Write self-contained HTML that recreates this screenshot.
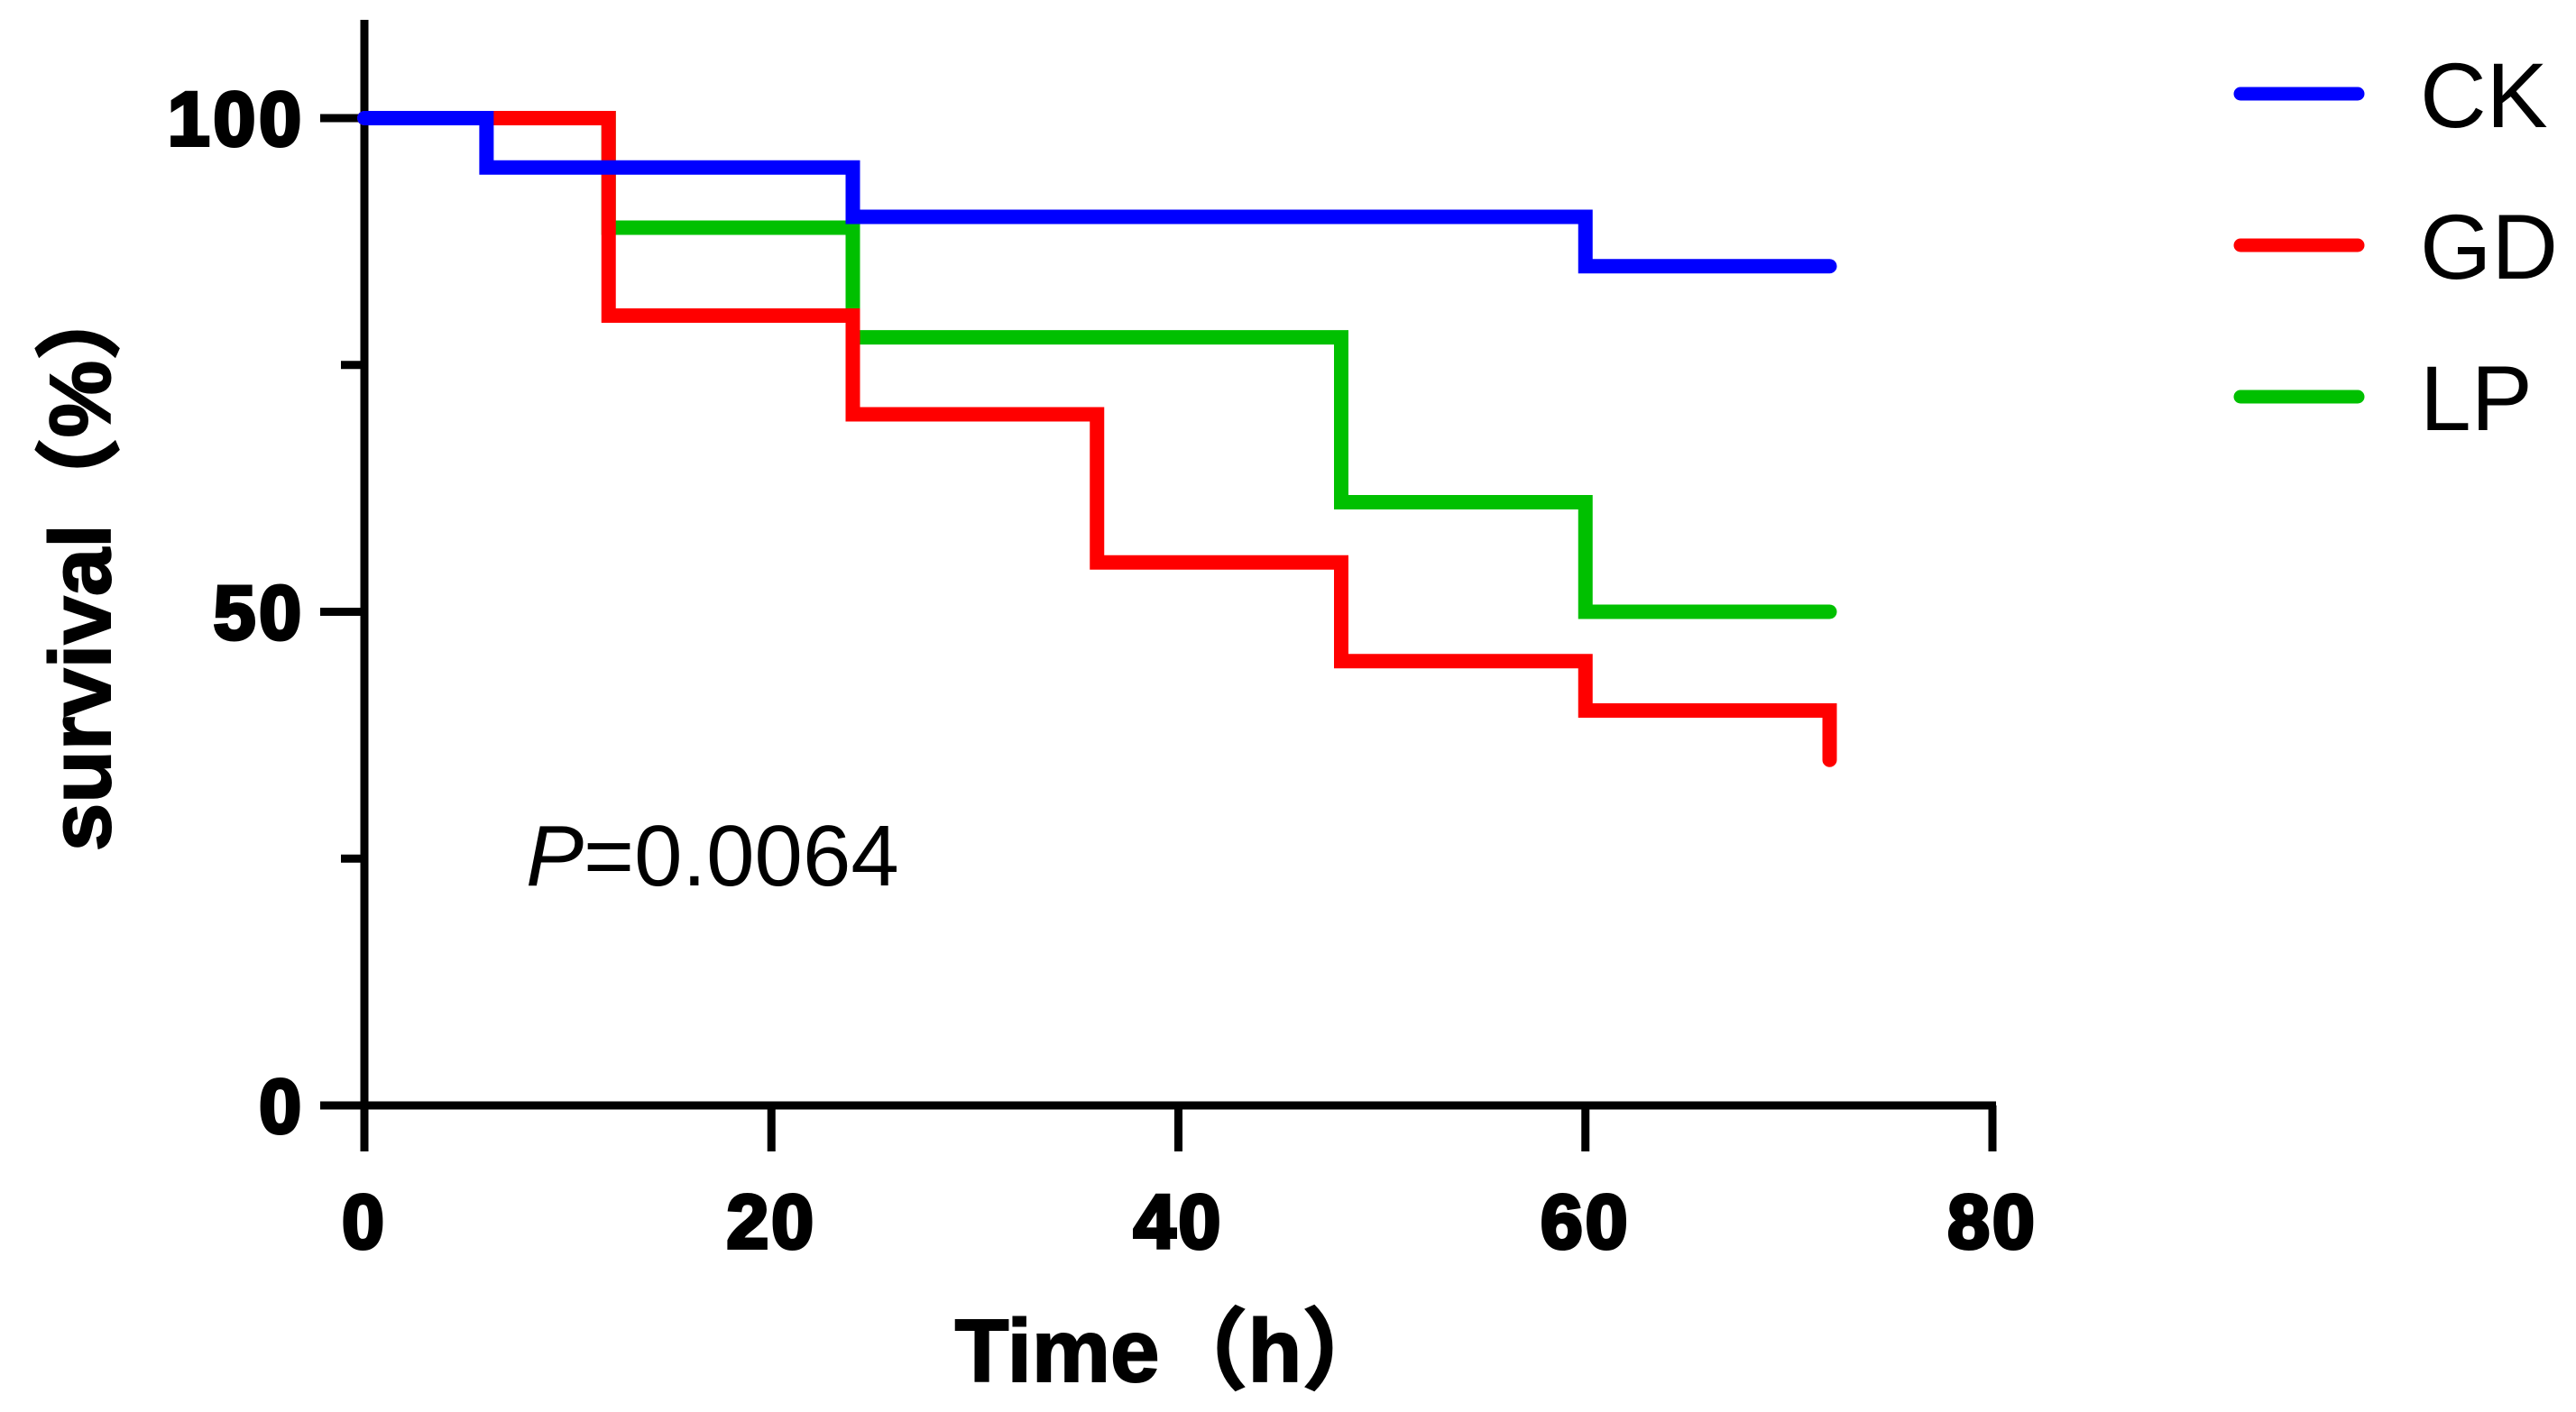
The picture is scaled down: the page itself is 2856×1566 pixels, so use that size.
<!DOCTYPE html>
<html><head><meta charset="utf-8"><style>
html,body{margin:0;padding:0;background:#fff;}
svg{display:block;}
text{font-family:"Liberation Sans","Noto Sans CJK SC",sans-serif;}
</style></head><body>
<svg id="chart" width="2856" height="1566" viewBox="0 0 2856 1566">
<g id="axes"></g>
<g id="series"></g>
<g id="legend"></g>
<text x="583" y="982" font-size="96" fill="#000"><tspan font-style="italic">P</tspan>=0.0064</text>
<text x="1300" y="1532" font-size="98" font-weight="bold" text-anchor="middle" fill="#000" stroke="#000" stroke-width="2">Time（h）</text>
<text transform="translate(122,624) rotate(-90)" font-size="96" font-weight="bold" text-anchor="middle" fill="#000" stroke="#000" stroke-width="2">survival（%）</text>
</svg>
<script>
const xTicks=[0,20,40,60,80];
const yTicks=[0,50,100];
const yMinor=[25,75];
const seriesNames=["CK","GD","LP"];
const seriesColors=["#0000ff","#ff0000","#00c000"];
const ckTimes=[0,6,24,60,72];
const ckValues=[100,95,90,85,85];
const gdTimes=[0,12,24,36,48,60,72,72];
const gdValues=[100,80,70,55,45,40,40,35];
const lpTimes=[0,12,24,48,60,72];
const lpValues=[100,88.9,77.8,61.1,50,50];
const NS="http://www.w3.org/2000/svg";
const X=v=>404+(v/80)*(2209-404);
const Y=v=>1226-(v/100)*(1226-131);
function mk(tag,attrs,parent){const e=document.createElementNS(NS,tag);for(const k in attrs)e.setAttribute(k,attrs[k]);parent.appendChild(e);return e;}
const axes=document.getElementById('axes');
let e=mk('line',{x1:404,y1:22,x2:404,y2:1277,stroke:'#000','stroke-width':9},axes);


e=mk('line',{x1:355,y1:1226,x2:2213,y2:1226,stroke:'#000','stroke-width':9},axes);


xTicks.forEach(t=>{
 const tk=mk('line',{x1:X(t),y1:1226,x2:X(t),y2:1277,stroke:'#000','stroke-width':9},axes);
 
 
 const lb=mk('text',{x:X(t),y:1384,'font-size':84,'font-weight':'bold','text-anchor':'middle',stroke:'#000','stroke-width':4,'letter-spacing':3},axes);
 lb.textContent=t;
 
 
});
yTicks.forEach(t=>{
 const tk=mk('line',{x1:355,y1:Y(t),x2:404,y2:Y(t),stroke:'#000','stroke-width':9},axes);
 
 
 const lb=mk('text',{x:338,y:Y(t)+30,'font-size':84,'font-weight':'bold','text-anchor':'end',stroke:'#000','stroke-width':4,'letter-spacing':4},axes);
 lb.textContent=t;
 
 
});
yMinor.forEach(t=>{
 const tk=mk('line',{x1:378,y1:Y(t),x2:404,y2:Y(t),stroke:'#000','stroke-width':9},axes);
 
 
});
const ser=document.getElementById('series');
function stepPath(ts,vs){let d='M'+X(ts[0])+' '+Y(vs[0]);for(let i=1;i<ts.length;i++){d+=' H'+X(ts[i])+' V'+Y(vs[i]);}return d;}
const data=[[lpTimes,lpValues,2],[gdTimes,gdValues,1],[ckTimes,ckValues,0]];
data.forEach(([ts,vs,i])=>{
 const p=mk('path',{d:stepPath(ts,vs),fill:'none',stroke:seriesColors[i],'stroke-width':16,'stroke-linecap':'round','stroke-linejoin':'miter'},ser);
 
 
});
const leg=document.getElementById('legend');
seriesNames.forEach((n,i)=>{
 const y=104+i*168;
 const l=mk('line',{x1:2484,y1:y,x2:2614,y2:y,stroke:seriesColors[i],'stroke-width':15,'stroke-linecap':'round'},leg);
 
 
 const t=mk('text',{x:2683,y:y+37,'font-size':102},leg);
 t.textContent=n;
 
 
});
</script>
</body></html>
